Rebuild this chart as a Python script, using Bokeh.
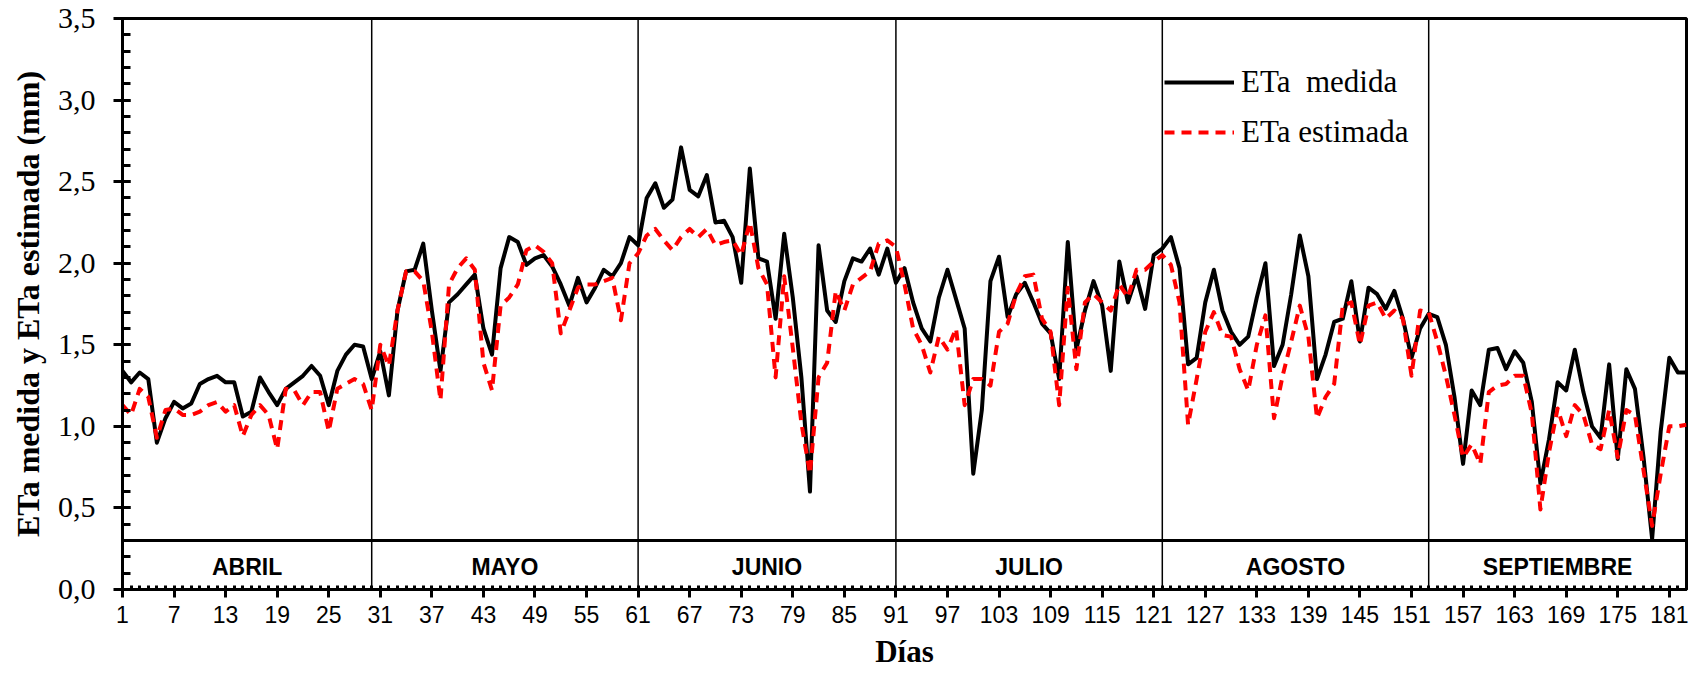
from bokeh.plotting import figure
from bokeh.models import (ColumnDataSource, Range1d, FixedTicker, CustomJSTickFormatter,
                          Legend, LegendItem, Span)
from bokeh.core.properties import value
from bokeh.embed import file_html
from bokeh.resources import INLINE

# ---------------- data ----------------
days = list(range(1, 184))

eta_medida = [
    1.34, 1.27, 1.33, 1.29, 0.90, 1.05, 1.15, 1.11, 1.14, 1.26,
    1.29, 1.31, 1.27, 1.27, 1.06, 1.09, 1.30, 1.21, 1.13, 1.23,
    1.27, 1.31, 1.37, 1.31, 1.13, 1.34, 1.44, 1.50, 1.49, 1.29,
    1.46, 1.19, 1.71, 1.95, 1.96, 2.12, 1.71, 1.34, 1.76, 1.81,
    1.87, 1.93, 1.60, 1.44, 1.97, 2.16, 2.13, 1.99, 2.03, 2.05,
    1.98, 1.87, 1.74, 1.91, 1.76, 1.85, 1.96, 1.92, 2.00, 2.16,
    2.11, 2.40, 2.49, 2.34, 2.39, 2.71, 2.45, 2.41, 2.54, 2.25,
    2.26, 2.16, 1.88, 2.58, 2.03, 2.01, 1.66, 2.18, 1.79, 1.30,
    0.60, 2.11, 1.71, 1.64, 1.89, 2.03, 2.01, 2.09, 1.93, 2.09,
    1.88, 1.97, 1.76, 1.60, 1.52, 1.79, 1.96, 1.78, 1.60, 0.71,
    1.10, 1.89, 2.04, 1.67, 1.81, 1.88, 1.76, 1.63, 1.57, 1.29,
    2.13, 1.47, 1.71, 1.89, 1.74, 1.34, 2.01, 1.76, 1.92, 1.72,
    2.05, 2.09, 2.16, 1.97, 1.38, 1.42, 1.76, 1.96, 1.71, 1.58,
    1.50, 1.55, 1.79, 2.00, 1.37, 1.50, 1.81, 2.17, 1.92, 1.29,
    1.44, 1.64, 1.66, 1.89, 1.52, 1.85, 1.81, 1.72, 1.83, 1.66,
    1.42, 1.60, 1.69, 1.67, 1.50, 1.18, 0.77, 1.22, 1.13, 1.47,
    1.48, 1.35, 1.46, 1.39, 1.15, 0.65, 0.92, 1.27, 1.22, 1.47,
    1.21, 1.00, 0.93, 1.38, 0.80, 1.35, 1.23, 0.81, 0.31, 0.97,
    1.42, 1.33, 1.33,
]

eta_estimada = [
    1.13, 1.07, 1.23, 1.18, 0.93, 1.10, 1.11, 1.07, 1.07, 1.09,
    1.13, 1.15, 1.09, 1.13, 0.94, 1.07, 1.13, 1.07, 0.86, 1.23,
    1.22, 1.13, 1.21, 1.21, 0.97, 1.23, 1.26, 1.29, 1.26, 1.10,
    1.50, 1.37, 1.71, 1.95, 1.95, 1.89, 1.58, 1.16, 1.87, 1.97,
    2.03, 1.96, 1.39, 1.22, 1.74, 1.79, 1.87, 2.08, 2.11, 2.07,
    2.00, 1.57, 1.71, 1.85, 1.87, 1.87, 1.89, 1.91, 1.65, 2.00,
    2.06, 2.17, 2.21, 2.14, 2.08, 2.16, 2.21, 2.16, 2.21, 2.11,
    2.13, 2.14, 2.05, 2.25, 1.97, 1.87, 1.30, 1.92, 1.48, 1.02,
    0.71, 1.30, 1.39, 1.83, 1.71, 1.87, 1.91, 1.95, 2.12, 2.14,
    2.10, 1.87, 1.60, 1.50, 1.33, 1.55, 1.47, 1.60, 1.13, 1.29,
    1.29, 1.25, 1.58, 1.63, 1.81, 1.92, 1.93, 1.66, 1.58, 1.13,
    1.85, 1.35, 1.76, 1.81, 1.76, 1.71, 1.87, 1.79, 1.96, 1.96,
    2.01, 2.05, 1.99, 1.76, 1.01, 1.29, 1.58, 1.70, 1.56, 1.55,
    1.35, 1.22, 1.50, 1.68, 1.05, 1.31, 1.52, 1.74, 1.55, 1.05,
    1.18, 1.26, 1.74, 1.76, 1.50, 1.74, 1.76, 1.66, 1.71, 1.66,
    1.31, 1.71, 1.70, 1.52, 1.31, 1.07, 0.81, 0.89, 0.77, 1.21,
    1.25, 1.26, 1.31, 1.31, 1.08, 0.49, 0.84, 1.11, 0.94, 1.13,
    1.07, 0.89, 0.86, 1.10, 0.81, 1.10, 1.07, 0.73, 0.39, 0.71,
    1.00, 1.00, 1.01,
]

months = ["ABRIL", "MAYO", "JUNIO", "JULIO", "AGOSTO", "SEPTIEMBRE"]
month_bounds = [1, 30, 61, 91, 122, 153, 183]

x_ticks = list(range(1, 184, 6))
y_ticks = [0.0, 0.5, 1.0, 1.5, 2.0, 2.5, 3.0, 3.5]
y_minor = [round(i * 0.1, 1) for i in range(0, 36)]

SERIF = "Liberation Serif"
SANS = "Liberation Sans"

# ---------------- figure ----------------
p = figure(width=1701, height=676, output_backend="svg", toolbar_location=None,
           x_range=Range1d(1, 183), y_range=Range1d(0, 3.5),
           min_border_left=122, min_border_right=15, min_border_top=18,
           min_border_bottom=87)
p.background_fill_color = "white"
p.border_fill_color = "white"
p.outline_line_color = "black"
p.outline_line_width = 3
p.xgrid.visible = False
p.ygrid.visible = False

# month band
p.add_layout(Span(location=0.3, dimension="width", line_color="black", line_width=3))
sep_src = ColumnDataSource(dict(x=month_bounds[1:-1],
                                y0=[0] * (len(month_bounds) - 2),
                                y1=[3.5] * (len(month_bounds) - 2)))
p.segment(x0="x", y0="y0", x1="x", y1="y1", source=sep_src, line_color="black",
          line_width=1.5)

mid = [(a + b) / 2 for a, b in zip(month_bounds[:-1], month_bounds[1:])]
msrc = ColumnDataSource(dict(x=mid, y=[0.135] * len(mid), t=months))
p.text(x="x", y="y", text="t", source=msrc, text_align="center",
       text_baseline="middle", text_font=value(SANS), text_font_style="bold",
       text_font_size="23px", text_color="black")

# series
src = ColumnDataSource(dict(d=days, m=eta_medida, e=eta_estimada))
r_m = p.line("d", "m", source=src, line_color="black", line_width=4,
             line_join="round")
r_e = p.line("d", "e", source=src, line_color="#ff0000", line_width=4,
             line_dash="10 7", line_join="round")

legend = Legend(items=[LegendItem(label="ETa  medida", renderers=[r_m]),
                       LegendItem(label="ETa estimada", renderers=[r_e])],
                location=(1042, 437), orientation="vertical",
                label_text_font=SERIF, label_text_font_size="31px",
                label_text_color="black",
                glyph_width=70, glyph_height=40, label_height=40, spacing=10,
                padding=0, margin=0, label_standoff=7,
                border_line_alpha=0, background_fill_alpha=0)
p.add_layout(legend, "center")

# axes
xa = p.xaxis[0]
xa.ticker = FixedTicker(ticks=x_ticks, minor_ticks=days)
xa.axis_line_width = 3
xa.axis_line_color = "black"
xa.major_tick_line_width = 3
xa.major_tick_in = 0
xa.major_tick_out = 8
xa.minor_tick_line_width = 3
xa.minor_tick_in = 4
xa.minor_tick_out = 0
xa.major_label_text_font = SANS
xa.major_label_text_font_size = "23px"
xa.major_label_text_color = "black"
xa.major_label_standoff = 8
xa.axis_label = "Días"
xa.axis_label_text_font = SERIF
xa.axis_label_text_font_style = "bold"
xa.axis_label_text_font_size = "31px"
xa.axis_label_text_color = "black"
xa.axis_label_standoff = 8

ya = p.yaxis[0]
ya.ticker = FixedTicker(ticks=y_ticks, minor_ticks=y_minor)
ya.formatter = CustomJSTickFormatter(code="return tick.toFixed(1).replace('.', ',');")
ya.axis_line_width = 3
ya.axis_line_color = "black"
ya.major_tick_line_width = 3
ya.major_tick_in = 8
ya.major_tick_out = 9
ya.minor_tick_line_width = 3
ya.minor_tick_in = 8
ya.minor_tick_out = 0
ya.major_label_text_font = SERIF
ya.major_label_text_font_size = "30px"
ya.major_label_text_color = "black"
ya.major_label_standoff = 18
ya.axis_label = "ETa medida y ETa estimada (mm)"
ya.axis_label_text_font = SERIF
ya.axis_label_text_font_style = "bold"
ya.axis_label_text_font_size = "32px"
ya.axis_label_text_color = "black"
ya.axis_label_standoff = 9

open("out.html", "w").write(file_html(p, INLINE))
